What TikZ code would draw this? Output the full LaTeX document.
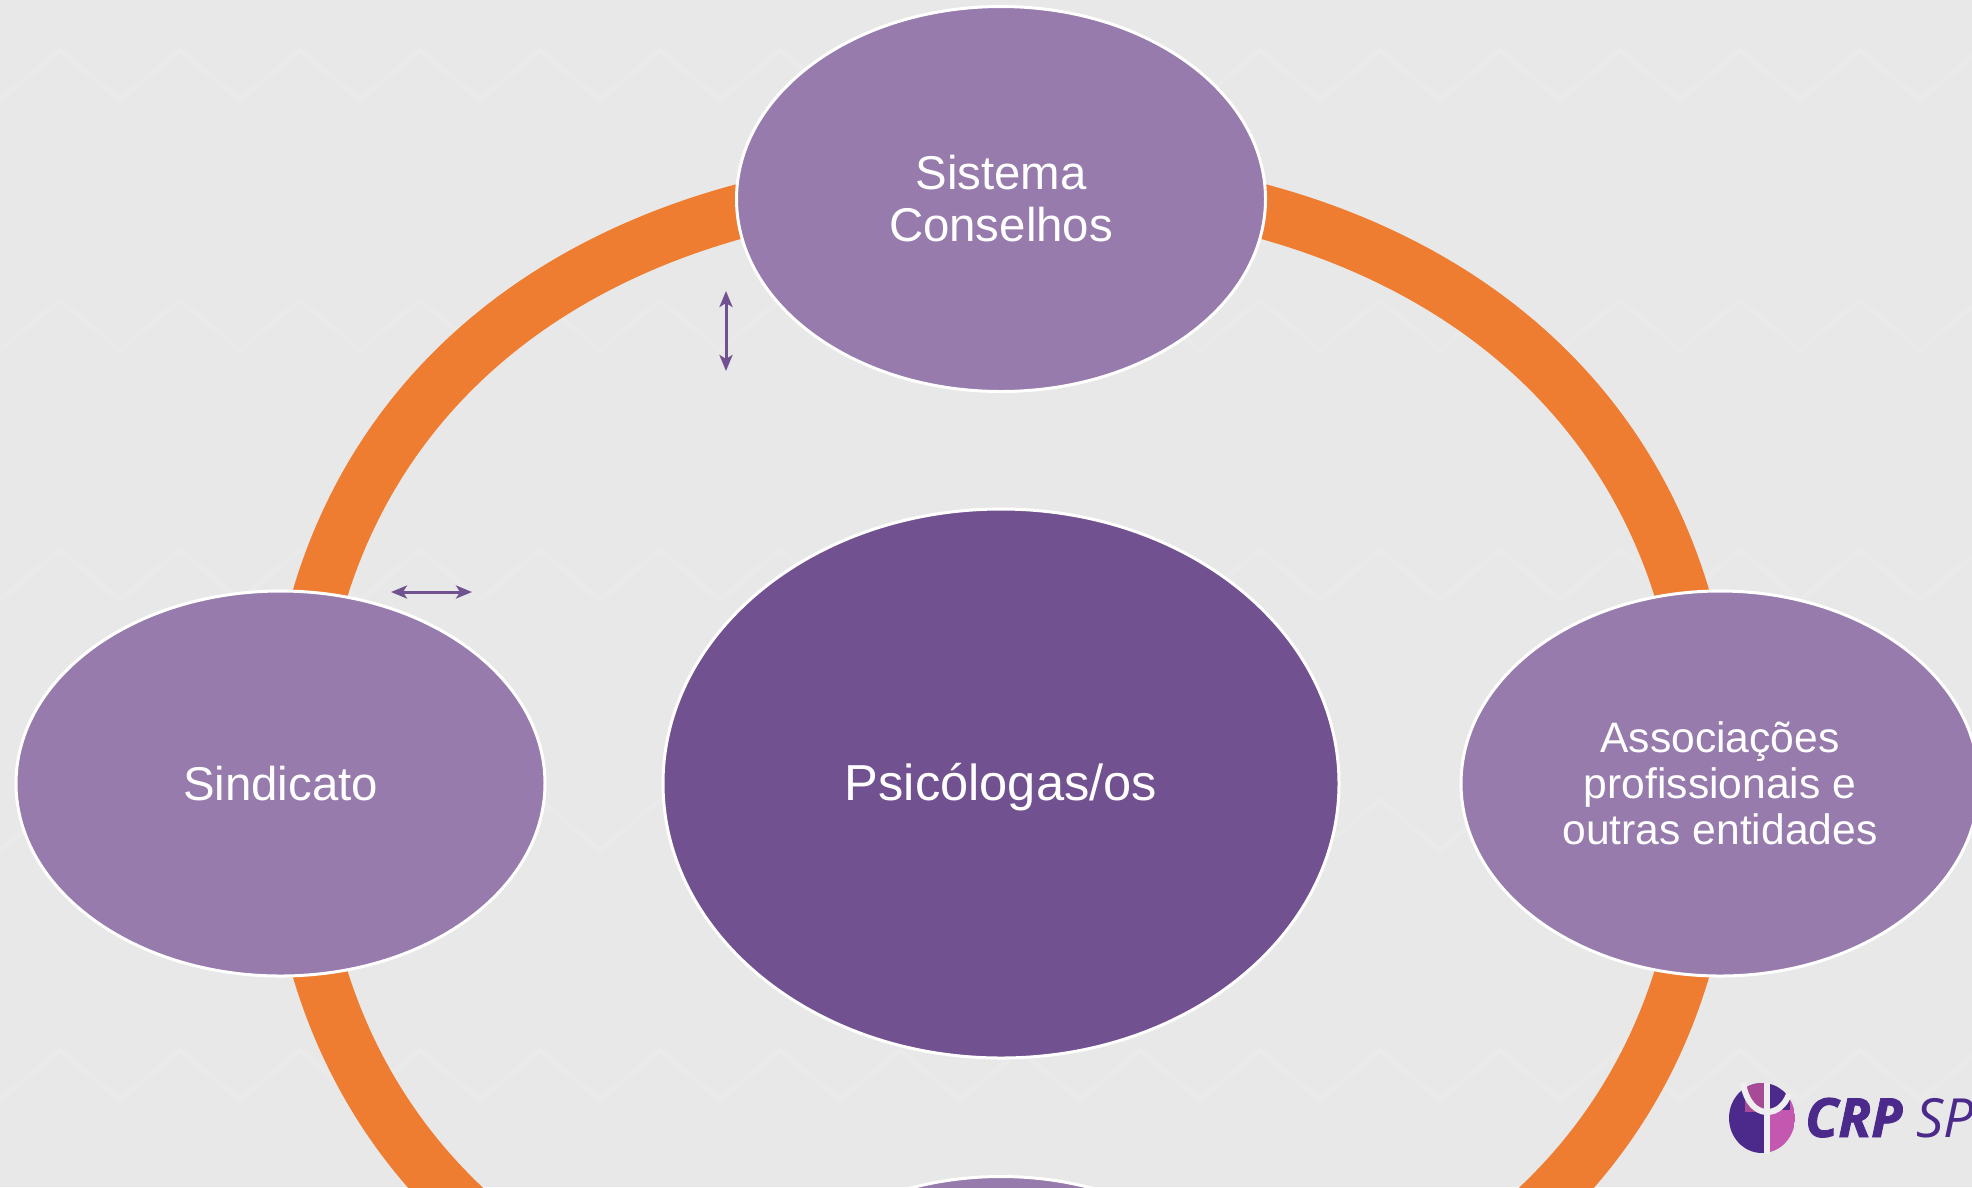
\documentclass[tikz,border=0pt]{standalone}
\usepackage{fontspec}
\setmainfont{Liberation Sans}
\newfontfamily\logofont[BoldItalicFeatures={FakeBold=1.5}]{Open Sans}
\usetikzlibrary{shapes.geometric,arrows.meta}
\definecolor{bgc}{HTML}{E8E8E8}
\definecolor{zig}{HTML}{EAEAEA}
\definecolor{ringc}{HTML}{EE7D31}
\definecolor{outerc}{HTML}{967BAC}
\definecolor{innerc}{HTML}{725190}
\definecolor{logoc}{HTML}{4B2A8C}
\definecolor{logom}{HTML}{C458B0}
\tikzset{
  ringarc/.style={draw=ringc,line width=54pt},
  bubble/.style={ellipse,draw=white,line width=3pt,fill=outerc,text=white,inner sep=0pt,align=center,minimum width=529pt,minimum height=385pt},
  hub/.style={bubble,fill=innerc,minimum width=676pt,minimum height=549pt},
  hint/.style={draw=innerc,line width=3pt,{Stealth[length=16pt,width=13pt,inset=4pt]}-{Stealth[length=16pt,width=13pt,inset=4pt]}},
  zigline/.style={draw=zig,line width=5pt,line join=miter}
}
\begin{document}
\begin{tikzpicture}[x=1pt,y=-1pt]
\useasboundingbox (0,0) rectangle (1972,1187);
\clip (0,0) rectangle (1972,1187);
\fill[bgc] (0,0) rectangle (1972,1187);
% faint background chevrons
\foreach \yy in {60,310,560,810,1060}{
  \draw[zigline] (0,\yy+40)
    \foreach \xx in {0,1,...,16}{ -- ++(60,-50) -- ++(60,50) };
}
% ring
\coordinate (ringT) at (1001,178.5);
\coordinate (ringL) at (293,783.5);
\coordinate (ringB) at (1001,1388.5);
\coordinate (ringR) at (1709,783.5);
\draw[ringarc] (ringT) .. controls (567,178.5) and (293,412.5) .. (ringL);
\draw[ringarc] (ringL) .. controls (293,1154.5) and (567,1388.5) .. (ringB);
\draw[ringarc] (ringB) .. controls (1435,1388.5) and (1709,1154.5) .. (ringR);
\draw[ringarc] (ringR) .. controls (1709,412.5) and (1435,178.5) .. (ringT);
% nodes
\node[bubble,font=\fontsize{47.4pt}{52pt}\selectfont] (top) at (1001,199) {Sistema\\Conselhos};
\node[bubble,font=\fontsize{47.4pt}{52pt}\selectfont,text height=37pt,text depth=3pt] (left) at (280.5,783.5) {Sindicato};
\node[bubble,minimum width=518pt,font=\fontsize{42.6pt}{46pt}\selectfont] (right) at (1720,783.5) {Associações\\profissionais e\\outras entidades};
\node[bubble] (bottom) at (1001,1369) {};
\node[hub,font=\fontsize{50.6pt}{55pt}\selectfont,text height=44pt,text depth=10pt] (center) at (1001,783.5) {Psicólogas/os};
% small arrows
\coordinate (vA) at (726,291);
\coordinate (vB) at (726,371);
\coordinate (hA) at (391,592);
\coordinate (hB) at (472,592);
\draw[hint] (vA) -- (vB);
\draw[hint] (hA) -- (hB);
% logo
\begin{scope}
  \clip (1762,1118) ellipse [x radius=33,y radius=35];
  \fill[logoc] (1729,1083) rectangle (1767,1153);
  \fill[logom] (1767,1083) rectangle (1795,1153);
  \fill[logom!85!black] (1745,1083) rectangle (1767,1112);
  \fill[logoc] (1767,1083) rectangle (1790,1110);
\end{scope}
\draw[bgc!70!white,line width=6pt] (1743,1083) .. controls (1746,1102) and (1756,1112) .. (1767,1112) .. controls (1777,1112) and (1785,1105) .. (1789,1094);
\draw[bgc!70!white,line width=6pt] (1767,1083) -- (1767,1154);
\node[anchor=base west,inner sep=0pt,text=logoc,font=\logofont\bfseries\itshape\fontsize{54pt}{54pt}\selectfont] (crp) at (1805,1137) {CRP};
\node[anchor=base west,inner sep=0pt,text=logoc,font=\logofont\itshape\fontsize{54pt}{54pt}\selectfont] (sp) at (1916,1137) {SP};
\end{tikzpicture}
\end{document}
